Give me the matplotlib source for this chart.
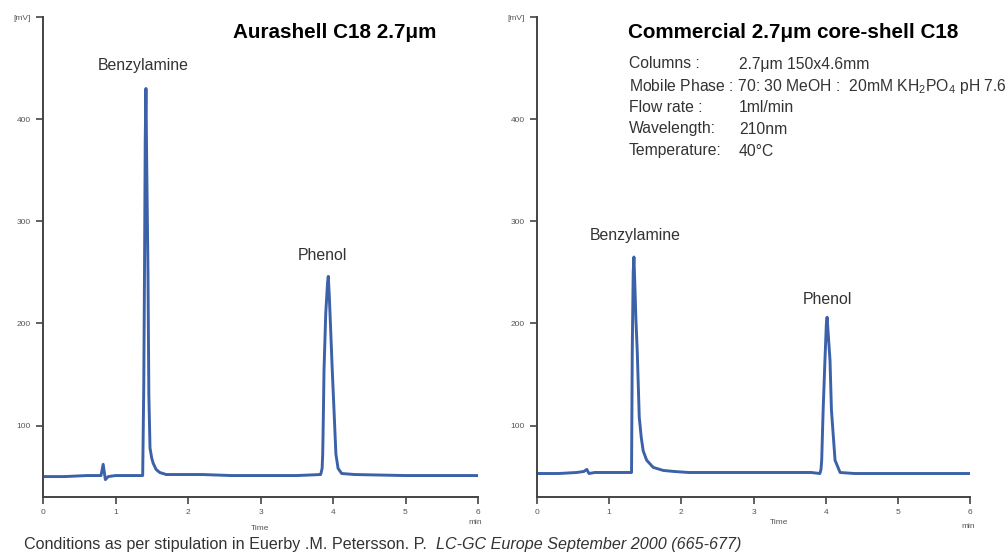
import matplotlib
matplotlib.use("Agg")
import matplotlib.pyplot as plt

plt.rcParams['font.family'] = ['Liberation Sans', 'DejaVu Sans']
plt.rcParams['mathtext.fontset'] = 'custom'
plt.rcParams['mathtext.rm'] = 'Liberation Sans'

# Aurashell C18 trace, time [min] / signal [mV]
t_aura = [0, 0.3, 0.6, 0.8, 0.83, 0.85, 0.86, 0.9, 1.0, 1.2, 1.375, 1.39, 1.40, 1.41,
          1.42, 1.43, 1.448, 1.46, 1.476, 1.50, 1.52, 1.56, 1.61, 1.70, 1.80, 2.2,
          2.6, 3.0, 3.5, 3.83, 3.85, 3.858, 3.866, 3.876, 3.90, 3.925, 3.935, 3.95, 3.97,
          3.99, 4.02, 4.04, 4.07, 4.12, 4.3, 5.0, 5.5, 6.0]
mv_aura = [50, 50, 51, 51, 62, 52, 47, 50, 51, 51, 51, 140, 250, 380,
           430, 360, 250, 130, 78, 68, 63, 57, 54, 52, 52, 52,
           51, 51, 51, 52, 58, 72, 105, 154, 210, 240, 246, 225, 190,
           154, 105, 72, 58, 53, 52, 51, 51, 51]

# commercial core-shell C18 trace
t_comm = [0, 0.3, 0.55, 0.65, 0.69, 0.72, 0.8, 1.0, 1.2, 1.31, 1.32, 1.333, 1.343,
          1.355, 1.37, 1.389, 1.417, 1.445, 1.472, 1.52, 1.61, 1.75, 1.9,
          2.1, 2.6, 3.2, 3.8, 3.92, 3.935, 3.945, 3.965, 3.99, 4.01, 4.02, 4.035, 4.06,
          4.08, 4.13, 4.2, 4.4, 5.0, 5.5, 6.0]
mv_comm = [53, 53, 54, 55, 57, 53, 54, 54, 54, 54, 173, 250, 265,
           240, 205, 173, 108, 88, 75, 66, 59, 56, 55,
           54, 54, 54, 54, 53, 57, 66, 115, 164, 200, 206, 190, 164,
           115, 66, 54, 53, 53, 53, 53]

x_ticks = [0, 1, 2, 3, 4, 5, 6]
y_ticks = [100, 200, 300, 400, 500]
y_tick_labels = ['100', '200', '300', '400', '[mV]']

line_col = '#3b61a9'
spine_col = '#444444'
txt_col = '#333333'

fig = plt.figure(figsize=(10.07, 5.53), dpi=100)
ax1 = fig.add_axes([43 / 1007, 1 - 497 / 553, 435 / 1007, 480 / 553])
ax2 = fig.add_axes([537 / 1007, 1 - 497 / 553, 433 / 1007, 480 / 553])

for ax, t, mv in [(ax1, t_aura, mv_aura), (ax2, t_comm, mv_comm)]:
    ax.plot(t, mv, color=line_col, lw=2.1, solid_joinstyle='round')
    ax.set_xlim(0, 6)
    ax.set_ylim(30, 500)
    ax.set_xticks(x_ticks)
    ax.set_xticklabels([str(v) for v in x_ticks])
    ax.set_yticks(y_ticks)
    ax.set_yticklabels(y_tick_labels)
    ax.tick_params(labelsize=6, colors=spine_col, length=5, width=1.2, pad=4)
    for lab in ax.get_xticklabels() + ax.get_yticklabels():
        lab.set_color('#555555')
    ax.spines['top'].set_visible(False)
    ax.spines['right'].set_visible(False)
    for s in ['left', 'bottom']:
        ax.spines[s].set_color(spine_col)
        ax.spines[s].set_linewidth(1.4)
    ax.patch.set_alpha(0)

# peak labels
ax1.text(1.38, 453, 'Benzylamine', ha='center', va='center', fontsize=11.4, color=txt_col)
ax1.text(3.85, 266, 'Phenol', ha='center', va='center', fontsize=11.4, color=txt_col)
ax2.text(1.36, 286, 'Benzylamine', ha='center', va='center', fontsize=11.4, color=txt_col)
ax2.text(4.03, 223, 'Phenol', ha='center', va='center', fontsize=11.4, color=txt_col)

# axis captions
fig.text(260 / 1007, 1 - 528 / 553, 'Time', fontsize=6, color='#555555', ha='center', va='center')
fig.text(475 / 1007, 1 - 523 / 553, 'min', fontsize=6, color='#555555', ha='center', va='center')
fig.text(779 / 1007, 1 - 522 / 553, 'Time', fontsize=6, color='#555555', ha='center', va='center')
fig.text(968 / 1007, 1 - 526 / 553, 'min', fontsize=6, color='#555555', ha='center', va='center')

# titles
fig.text(335 / 1007, 1 - 32 / 553, 'Aurashell C18 2.7μm', fontsize=14.9, fontweight='bold',
         ha='center', va='center')
fig.text(628 / 1007, 1 - 32 / 553, 'Commercial 2.7μm core-shell C18', fontsize=14.9,
         fontweight='bold', ha='left', va='center')

# conditions
cond_keys = ['Columns :', None, 'Flow rate :', 'Wavelength:', 'Temperature:']
cond_vals = ['2.7μm 150x4.6mm', None, '1ml/min', '210nm', '40°C']
cond_y = [64, 86, 107, 129, 151]
for k, v, y in zip(cond_keys, cond_vals, cond_y):
    if k is None:
        fig.text(629 / 1007, 1 - y / 553,
                 r'Mobile Phase : 70: 30 MeOH :  20mM KH$_2$PO$_4$ pH 7.6',
                 fontsize=11.3, color=txt_col, ha='left', va='center')
        continue
    fig.text(629 / 1007, 1 - y / 553, k, fontsize=11.3, color=txt_col, ha='left', va='center')
    fig.text(739 / 1007, 1 - y / 553, v, fontsize=11.3, color=txt_col, ha='left', va='center')

# footnote
t1 = fig.text(24 / 1007, 1 - 544 / 553, 'Conditions as per stipulation in Euerby .M. Petersson. P.  ',
              fontsize=11.6, color=txt_col, ha='left', va='center')
fig.canvas.draw()
bb = t1.get_window_extent()
fig.text(bb.x1 / fig.bbox.width, 1 - 544 / 553, 'LC-GC Europe September 2000 (665-677)',
         fontsize=11.6, style='italic', color=txt_col, ha='left', va='center')

fig.savefig('out.png', dpi=100)
